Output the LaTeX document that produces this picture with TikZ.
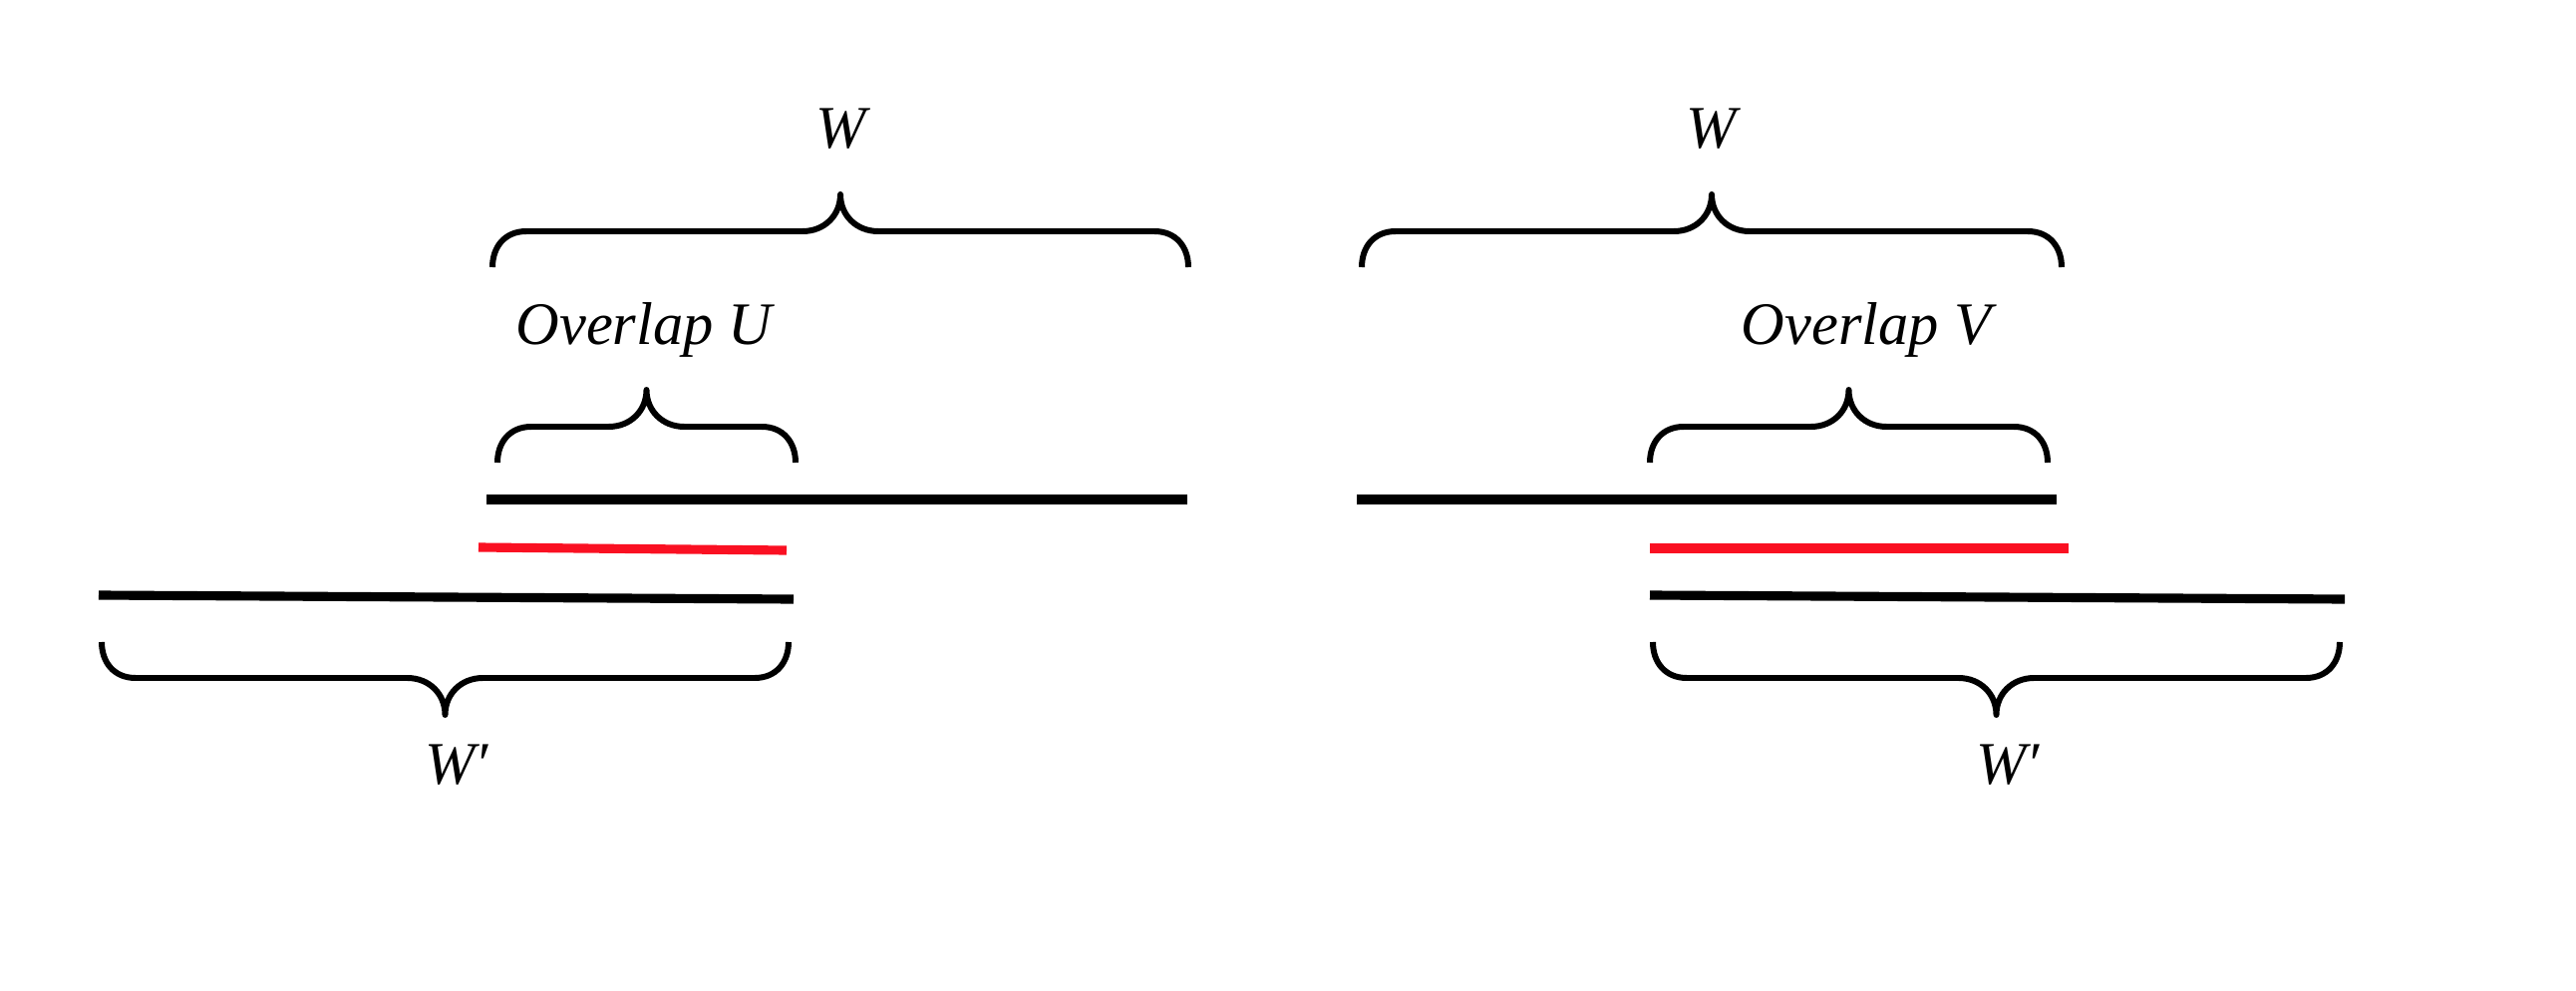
\documentclass[tikz,border=0pt]{standalone}
\usepackage{fontspec}
\setmainfont{Liberation Serif}
\definecolor{ovred}{RGB}{250,16,34}
\tikzset{
  bracestyle/.style={line width=1.7pt, line join=round},
  seg/.style={line width=2.6pt},
  redseg/.style={line width=2.6pt, draw=ovred},
  lab/.style={inner sep=0pt, anchor=base, font=\fontsize{17.2}{20}\selectfont\itshape}
}
\newcommand{\hbrace}[4]{%
  \pgfmathsetmacro{\xm}{(#1+#2)/2}%
  \pgfmathsetmacro{\yh}{#3-36*#4}%
  \pgfmathsetmacro{\yt}{#3-73*#4}%
  \pgfmathsetmacro{\ye}{#3-20*#4}%
  \pgfmathsetmacro{\yc}{\yh-16*#4}%
  \draw[bracestyle] (#1,#3) .. controls (#1,\ye) and ({#1+12},\yh) .. ({#1+34},\yh)
    -- ({\xm-38},\yh) .. controls ({\xm-16},\yh) and (\xm,\yc) .. (\xm,\yt)
    .. controls (\xm,\yc) and ({\xm+16},\yh) .. ({\xm+38},\yh)
    -- ({#2-34},\yh) .. controls ({#2-12},\yh) and (#2,\ye) .. (#2,#3);
}
\begin{document}
\begin{tikzpicture}[x=0.01cm, y=-0.01cm]
\fill[white] (0,0) rectangle (2584,994);
\useasboundingbox (0,0) rectangle (2584,994);
% ---------- left ----------
\node[lab] (wL) at (844,149) {W};
\hbrace{494}{1192}{268}{1}
\node[lab] (ovU) at (646,345) {Overlap U};
\hbrace{499}{798}{464}{1}
\coordinate (tL1) at (488,501); \coordinate (tL2) at (1191,501);
\draw[seg] (tL1) -- (tL2);
\coordinate (rL1) at (480,549); \coordinate (rL2) at (789,552);
\draw[redseg] (rL1) -- (rL2);
\coordinate (bL1) at (99,597); \coordinate (bL2) at (796,601);
\draw[seg] (bL1) -- (bL2);
\hbrace{102}{791}{644}{-1}
\node[lab] (wpL) at (458,786) {W′};
% ---------- right ----------
\node[lab] (wR) at (1717,149) {W};
\hbrace{1366}{2068}{268}{1}
\node[lab] (ovV) at (1872,345) {Overlap V};
\hbrace{1655}{2054}{464}{1}
\coordinate (tR1) at (1361,501); \coordinate (tR2) at (2063,501);
\draw[seg] (tR1) -- (tR2);
\coordinate (rR1) at (1655,550); \coordinate (rR2) at (2075,550);
\draw[redseg] (rR1) -- (rR2);
\coordinate (bR1) at (1655,597); \coordinate (bR2) at (2352,601);
\draw[seg] (bR1) -- (bR2);
\hbrace{1658}{2347}{644}{-1}
\node[lab] (wpR) at (2014,786) {W′};
\end{tikzpicture}
\end{document}
